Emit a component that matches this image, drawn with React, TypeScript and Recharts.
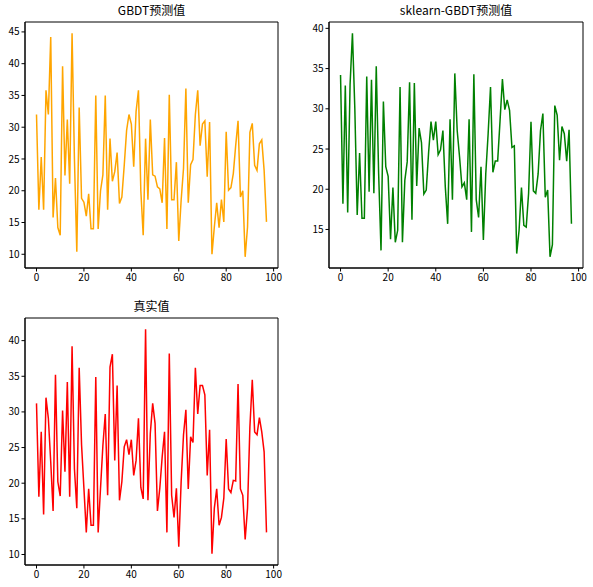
import * as React from 'react';
import { Line, LineChart, ReferenceArea, XAxis, YAxis } from 'recharts';

// GBDT predictions (orange)
const GBDT_PRED = [
  32, 17, 25.3, 17, 35.8, 32, 44.2, 15.8, 22, 14.2,
  13, 39.6, 22.4, 31.2, 21.1, 44.8, 25, 10.4, 33.1, 18.8,
  18.2, 16, 19.5, 14, 14, 35, 14, 20, 22.5, 35,
  17, 28.2, 21.5, 23, 26, 18, 19, 24, 29.5, 32,
  30.5, 23.8, 32.5, 35.8, 20, 13, 28.2, 18.6, 31.2, 22.5,
  22.3, 20.6, 20.3, 18.1, 28.3, 14, 35.1, 18.6, 18.6, 24.5,
  12.1, 18.5, 23.5, 36.1, 18.1, 24.1, 24.9, 32, 35.8, 27.1,
  30.5, 31, 22.2, 30.8, 10, 14.3, 18.1, 14.2, 18.6, 15.1,
  29.3, 20.1, 20.5, 22.7, 27.1, 31, 19, 20, 9.6, 14.3,
  29.2, 30.6, 24, 23.2, 27.4, 28, 23.2, 15.1,
];

// sklearn GBDT predictions (green)
const SKLEARN_PRED = [
  34.2, 18.2, 32.9, 17.1, 33, 39.4, 30, 16.8, 24.5, 16.4,
  16.4, 34, 19.7, 33.6, 19.5, 35.3, 22, 12.4, 30.9, 22.8,
  21.6, 13.8, 20.2, 13.4, 14.9, 32.7, 13.4, 21.1, 23.4, 33.3,
  16.2, 33.2, 20.4, 27.6, 25.8, 19.4, 19.9, 24.6, 28.4, 26.1,
  28.4, 24.3, 24.9, 27.3, 20.3, 15.7, 28.7, 18.7, 34.4, 27.3,
  24, 20.3, 20.8, 18.7, 28.7, 14.7, 34.3, 18.7, 16.5, 22.8,
  13.7, 21.9, 26.9, 32.7, 22.1, 23.5, 23.5, 28.5, 33.7, 29.9,
  31.1, 29.8, 25.2, 25.4, 12, 14.9, 20.2, 15.5, 15.3, 19.5,
  28.4, 19.8, 19.5, 21.9, 27.3, 29.4, 19, 19.9, 11.6, 13.1,
  30.4, 29.2, 23.6, 27.8, 26.9, 23.5, 27.4, 15.7,
];

// true values (red)
const TRUE_VALUES = [
  31.2, 18.1, 27.2, 15.6, 32, 29.1, 23, 16.1, 35.2, 20.2,
  18.2, 30.2, 21.6, 34.2, 18.1, 39.2, 22, 16.5, 36.2, 25.4,
  19.3, 13.1, 19.2, 14.1, 14.1, 34.9, 13.1, 19.3, 25.3, 29.7,
  18.3, 36.3, 38.1, 23.2, 33.7, 17.6, 20.2, 25.1, 26.1, 24,
  26.1, 21.1, 23.2, 29.1, 19.4, 17.8, 41.6, 17.6, 27, 31.2,
  28.4, 16.1, 19.3, 23.7, 27.2, 13.1, 38.2, 18.3, 15.2, 19.3,
  11.1, 20.2, 26.8, 30.3, 19.2, 26.5, 25.7, 36.2, 29.7, 33.7,
  33.7, 32.4, 21.1, 27.5, 10.1, 16.5, 19.2, 14.1, 15.2, 17.9,
  26.2, 19.2, 18.7, 20.4, 20.3, 33.9, 19.2, 18.3, 12.1, 16.5,
  27.9, 34.5, 27.2, 26.8, 29.2, 27.2, 24.4, 13.1,
];

const X_TICKS = [0, 20, 40, 60, 80, 100];
const GBDT_Y_TICKS = [10, 15, 20, 25, 30, 35, 40, 45];
const SKLEARN_Y_TICKS = [15, 20, 25, 30, 35, 40];
const TRUE_Y_TICKS = [10, 15, 20, 25, 30, 35, 40];

const FONT = "SimHei, 'Noto Sans CJK SC', sans-serif";

// matplotlib-style 5% margins
function padded(lo: number, hi: number): [number, number] {
  const m = (hi - lo) * 0.05;
  return [lo - m, hi + m];
}

interface PanelProps {
  values: number[];
  color: string;
  title: string;
  yTicks: number[];
  x: number;
  y: number;
  w: number;
  h: number;
}

function Panel({ values, color, title, yTicks, x, y, w, h }: PanelProps) {
  const data = values.map((v, i) => ({ i, v }));
  const xDomain = padded(0, values.length - 1);
  const yDomain = padded(Math.min(...values), Math.max(...values));
  const tick = { fill: '#000', fontSize: 10, fontFamily: FONT };
  const axisLine = { stroke: '#000', strokeWidth: 1 };

  return (
    <>
      <div
        style={{
          position: 'absolute',
          left: x,
          top: y - 19,
          width: w,
          textAlign: 'center',
          fontSize: 12,
          fontFamily: FONT,
          color: '#000',
          lineHeight: '14px',
        }}
      >
        {title}
      </div>
      <div style={{ position: 'absolute', left: x - 25, top: y - 22 }}>
        <LineChart
          width={w + 35}
          height={h + 44}
          data={data}
          margin={{ top: 22, right: 10, bottom: 2, left: 0 }}
        >
          <XAxis
            dataKey="i"
            type="number"
            domain={xDomain}
            ticks={X_TICKS}
            allowDataOverflow
            height={20}
            tick={tick}
            tickSize={3.5}
            tickMargin={2}
            tickLine={{ stroke: '#000' }}
            axisLine={axisLine}
          />
          <YAxis
            type="number"
            domain={yDomain}
            ticks={yTicks}
            allowDataOverflow
            width={25}
            tick={tick}
            tickSize={3.5}
            tickMargin={2}
            tickLine={{ stroke: '#000' }}
            axisLine={axisLine}
          />
          {/* full frame like matplotlib spines */}
          <ReferenceArea
            x1={xDomain[0]}
            x2={xDomain[1]}
            y1={yDomain[0]}
            y2={yDomain[1]}
            fill="none"
            fillOpacity={0}
            stroke="#000"
            strokeWidth={1}
            ifOverflow="visible"
          />
          <Line
            type="linear"
            dataKey="v"
            stroke={color}
            strokeWidth={1.5}
            dot={false}
            isAnimationActive={false}
          />
        </LineChart>
      </div>
    </>
  );
}

export default function App() {
  return (
    <div
      style={{
        position: 'absolute',
        left: 0,
        top: 0,
        width: 593,
        height: 587,
        background: '#fff',
      }}
    >
      <Panel
        values={GBDT_PRED}
        color="#FFA500"
        title="GBDT预测值"
        yTicks={GBDT_Y_TICKS}
        x={25}
        y={22}
        w={253}
        h={246}
      />
      <Panel
        values={SKLEARN_PRED}
        color="#008000"
        title="sklearn-GBDT预测值"
        yTicks={SKLEARN_Y_TICKS}
        x={329}
        y={22}
        w={254}
        h={246}
      />
      <Panel
        values={TRUE_VALUES}
        color="#FF0000"
        title="真实值"
        yTicks={TRUE_Y_TICKS}
        x={25}
        y={318}
        w={253}
        h={247}
      />
    </div>
  );
}
